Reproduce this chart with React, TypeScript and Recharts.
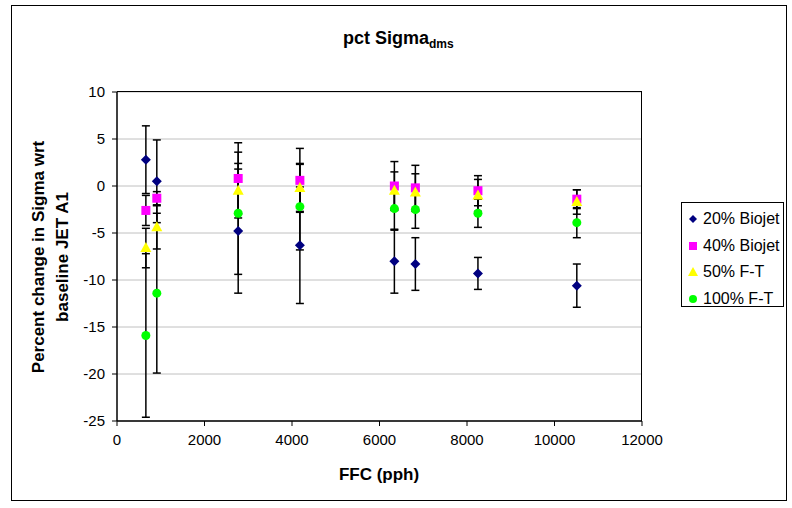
import {
  ScatterChart,
  Scatter,
  XAxis,
  YAxis,
  CartesianGrid,
  ErrorBar,
} from "recharts";

// FFC (pph) positions of the test points
const ffc = [660, 910, 2770, 4180, 6340, 6820, 8250, 10510];

const biojet20 = [2.8, 0.5, -4.8, -6.3, -8.0, -8.3, -9.3, -10.6];
const biojet20Err = [3.6, 4.4, 6.6, 6.2, 3.4, 2.8, 1.7, 2.3];

const biojet40 = [-2.6, -1.3, 0.8, 0.6, 0.0, -0.2, -0.5, -1.4];
const biojet40Err = [1.6, 0.7, 3.8, 3.4, 2.6, 2.4, 1.6, 1.0];

const ft50 = [-6.6, -4.4, -0.5, -0.2, -0.5, -0.7, -1.0, -1.7];
const ft50Err = [2.1, 2.3, 2.9, 2.5, 2.0, 2.0, 1.7, 1.3];

const ft100 = [-15.9, -11.4, -2.9, -2.2, -2.4, -2.5, -2.9, -3.9];
const ft100Err = [8.7, 8.5, 6.5, 4.6, 2.3, 2.0, 1.5, 1.6];

const xTicks = [0, 2000, 4000, 6000, 8000, 10000, 12000];
const yTicks = [-25, -20, -15, -10, -5, 0, 5, 10];

const FONT = "'Liberation Sans', Arial, sans-serif";

const build = (ys: number[], errs: number[]) =>
  ffc.map((x, i) => ({ x, y: ys[i], err: errs[i] }));

const Diamond = (p: any) => (
  <polygon
    points={`${p.cx},${p.cy - 5} ${p.cx + 5},${p.cy} ${p.cx},${p.cy + 5} ${p.cx - 5},${p.cy}`}
    fill="#000080"
  />
);
const Square = (p: any) => (
  <rect x={p.cx - 4.5} y={p.cy - 4.5} width={9} height={9} fill="#FF00FF" />
);
const Triangle = (p: any) => (
  <polygon
    points={`${p.cx},${p.cy - 6} ${p.cx + 5.5},${p.cy + 4} ${p.cx - 5.5},${p.cy + 4}`}
    fill="#FFFF00"
  />
);
const Circle = (p: any) => <circle cx={p.cx} cy={p.cy} r={4.5} fill="#00FF00" />;

const SERIES = [
  { name: "20% Biojet", data: build(biojet20, biojet20Err), shape: Diamond },
  { name: "40% Biojet", data: build(biojet40, biojet40Err), shape: Square },
  { name: "50% F-T", data: build(ft50, ft50Err), shape: Triangle },
  { name: "100% F-T", data: build(ft100, ft100Err), shape: Circle },
];

const LegendMarker = ({ index }: { index: number }) => (
  <svg width={12} height={12} style={{ marginRight: 4 }}>
    {index === 0 && <polygon points="6,2 10,6 6,10 2,6" fill="#000080" />}
    {index === 1 && <rect x={2} y={2} width={8} height={8} fill="#FF00FF" />}
    {index === 2 && <polygon points="6,1 11,10 1,10" fill="#FFFF00" />}
    {index === 3 && <circle cx={6} cy={6} r={4} fill="#00FF00" />}
  </svg>
);

export default function App() {
  return (
    <div
      style={{
        position: "absolute",
        left: 0,
        top: 0,
        width: 792,
        height: 508,
        background: "#fff",
        fontFamily: FONT,
      }}
    >
      {/* chart area frame */}
      <div
        style={{
          position: "absolute",
          left: 11,
          top: 5,
          width: 774,
          height: 494,
          border: "1px solid #000",
        }}
      />
      <ScatterChart
        width={792}
        height={508}
        margin={{ top: 92, right: 150, bottom: 27, left: 20 }}
        style={{ position: "absolute", left: 0, top: 0 }}
      >
        <CartesianGrid vertical={false} stroke="#C0C0C0" strokeWidth={1} />
        <XAxis
          type="number"
          dataKey="x"
          domain={[0, 12000]}
          ticks={xTicks}
          interval={0}
          height={60}
          tickSize={5}
          tickMargin={8}
          tick={{ fontSize: 15, fill: "#000", fontFamily: FONT }}
          stroke="#000"
          axisLine={{ stroke: "#000", strokeWidth: 1.5 }}
        />
        <YAxis
          type="number"
          dataKey="y"
          domain={[-25, 10]}
          ticks={yTicks}
          interval={0}
          width={97}
          tickSize={5}
          tickMargin={7}
          tick={{ fontSize: 15, fill: "#000", fontFamily: FONT }}
          stroke="#000"
          axisLine={{ stroke: "#000", strokeWidth: 1.5 }}
        />
        {SERIES.map((s) => (
          <Scatter
            key={s.name}
            name={s.name}
            data={s.data}
            shape={s.shape}
            isAnimationActive={false}
          >
            <ErrorBar
              dataKey="err"
              direction="y"
              width={4}
              stroke="#000"
              strokeWidth={1.5}
            />
          </Scatter>
        ))}
      </ScatterChart>

      {/* plot area top/right border */}
      <div
        style={{
          position: "absolute",
          left: 117,
          top: 91,
          width: 524,
          height: 329,
          borderTop: "1px solid #000",
          borderRight: "1px solid #000",
          pointerEvents: "none",
        }}
      />

      {/* titles */}
      <svg
        width={792}
        height={508}
        style={{ position: "absolute", left: 0, top: 0, pointerEvents: "none" }}
        fontFamily={FONT}
        fontWeight="bold"
      >
        <text x={343} y={44} fontSize={18}>
          pct Sigma
          <tspan fontSize={12} dy={4}>
            dms
          </tspan>
        </text>
        <text x={379} y={480} fontSize={17} textAnchor="middle">
          FFC (pph)
        </text>
        <text
          transform="translate(44,257) rotate(-90)"
          fontSize={17}
          textAnchor="middle"
        >
          Percent change in Sigma wrt
        </text>
        <text
          transform="translate(68,257) rotate(-90)"
          fontSize={17}
          textAnchor="middle"
        >
          baseline JET A1
        </text>
      </svg>

      {/* legend */}
      <div
        style={{
          position: "absolute",
          left: 681,
          top: 202,
          width: 103,
          height: 105,
          border: "1px solid #000",
          background: "#fff",
          boxSizing: "border-box",
          paddingTop: 3,
        }}
      >
        {SERIES.map((s, i) => (
          <div
            key={s.name}
            style={{
              display: "flex",
              alignItems: "center",
              height: 26.5,
              paddingLeft: 5,
              fontSize: 16,
              whiteSpace: "nowrap",
            }}
          >
            <LegendMarker index={i} />
            {s.name}
          </div>
        ))}
      </div>
    </div>
  );
}
